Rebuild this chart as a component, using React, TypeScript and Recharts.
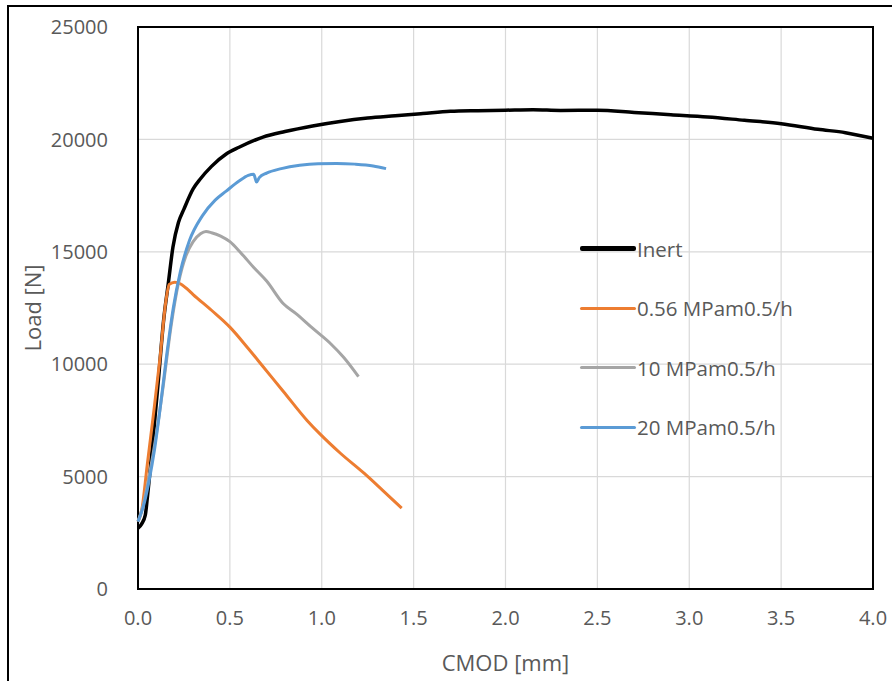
import React from 'react';
import {
  LineChart,
  Line,
  XAxis,
  YAxis,
  CartesianGrid,
  ReferenceArea,
} from 'recharts';

const xTicks = [0, 0.5, 1, 1.5, 2, 2.5, 3, 3.5, 4];
const yTicks = [0, 5000, 10000, 15000, 20000, 25000];

const inertCmod = [0, 0.02, 0.04, 0.05, 0.08, 0.11, 0.14, 0.165, 0.19, 0.22, 0.25, 0.3, 0.34, 0.4, 0.48, 0.55, 0.68, 0.8, 0.95, 1.1, 1.25, 1.4, 1.55, 1.7, 1.85, 2.0, 2.15, 2.3, 2.5, 2.7, 2.9, 3.1, 3.3, 3.5, 3.7, 3.85, 4.0];
const inertLoad = [2700, 2900, 3300, 4000, 6500, 9200, 12000, 13600, 15200, 16300, 16900, 17800, 18250, 18800, 19350, 19650, 20100, 20350, 20600, 20800, 20950, 21050, 21150, 21250, 21280, 21300, 21320, 21290, 21300, 21200, 21100, 21000, 20850, 20700, 20450, 20300, 20050];

const lowCmod = [0, 0.02, 0.05, 0.083, 0.12, 0.15, 0.17, 0.2, 0.23, 0.26, 0.3, 0.4, 0.5, 0.6, 0.68, 0.79, 0.92, 0.99, 1.1, 1.23, 1.33, 1.435];
const lowLoad = [3000, 3500, 5500, 7700, 10300, 12700, 13550, 13650, 13580, 13400, 13100, 12400, 11650, 10700, 9900, 8800, 7500, 6900, 6050, 5150, 4400, 3600];

const midCmod = [0, 0.03, 0.06, 0.1, 0.14, 0.18, 0.22, 0.26, 0.3, 0.34, 0.37, 0.4, 0.45, 0.5, 0.56, 0.63, 0.7, 0.79, 0.86, 0.95, 1.05, 1.12, 1.2];
const midLoad = [3000, 3800, 5000, 6900, 9200, 11700, 13600, 14800, 15450, 15800, 15900, 15850, 15700, 15450, 14950, 14300, 13700, 12700, 12250, 11600, 10900, 10300, 9450];

const highCmod = [0, 0.03, 0.06, 0.09, 0.12, 0.156, 0.192, 0.23, 0.28, 0.35, 0.42, 0.48, 0.55, 0.6, 0.63, 0.645, 0.66, 0.7, 0.78, 0.88, 0.98, 1.08, 1.18, 1.28, 1.35];
const highLoad = [3000, 3700, 4800, 6200, 8000, 10400, 12500, 14100, 15500, 16600, 17300, 17700, 18150, 18400, 18450, 18100, 18300, 18500, 18700, 18850, 18920, 18930, 18900, 18820, 18700];

const toPoints = (xs: number[], ys: number[]) => xs.map((x, i) => ({ x, y: ys[i] }));

const series = [
  { name: 'Inert', color: '#000000', width: 3.5, data: toPoints(inertCmod, inertLoad) },
  { name: '0.56 MPam0.5/h', color: '#ED7D31', width: 3, data: toPoints(lowCmod, lowLoad) },
  { name: '10 MPam0.5/h', color: '#A5A5A5', width: 3, data: toPoints(midCmod, midLoad) },
  { name: '20 MPam0.5/h', color: '#5B9BD5', width: 3, data: toPoints(highCmod, highLoad) },
];

const font = "'Open Sans', sans-serif";
const textColor = '#595959';

function LegendBox() {
  return (
    <div
      style={{
        position: 'absolute',
        left: 580,
        top: 219,
        fontFamily: font,
        fontSize: 20.5,
        color: textColor,
      }}
    >
      {series.map((s, i) => (
        <div key={s.name} style={{ display: 'flex', alignItems: 'center', height: 59.5 }}>
          <div
            style={{
              width: 56,
              height: i === 0 ? 5 : 3,
              background: s.color,
              borderRadius: 2,
              marginRight: 1,
            }}
          />
          <span>{s.name}</span>
        </div>
      ))}
    </div>
  );
}

export default function App() {
  return (
    <div style={{ position: 'absolute', left: 0, top: 0, width: 892, height: 681, overflow: 'hidden', background: '#fff' }}>
      <div
        style={{
          position: 'absolute',
          left: 7,
          top: 5,
          width: 900,
          height: 700,
          border: '2px solid #000',
          boxSizing: 'border-box',
        }}
      />
      <LineChart
        width={892}
        height={681}
        margin={{ top: 27, right: 19, bottom: 6, left: 28 }}
        style={{ position: 'absolute', left: 0, top: 0 }}
      >
        <CartesianGrid stroke="#D9D9D9" strokeWidth={1.2} />
        <XAxis
          type="number"
          dataKey="x"
          domain={[0, 4]}
          ticks={xTicks}
          tickFormatter={(v: number) => v.toFixed(1)}
          tickLine={false}
          axisLine={false}
          tickMargin={16}
          height={86}
          tick={{ fill: textColor, fontFamily: font, fontSize: 20 }}
          label={{
            value: 'CMOD [mm]',
            position: 'insideBottom',
            offset: 4,
            style: { fill: textColor, fontFamily: font, fontSize: 22 },
          }}
        />
        <YAxis
          type="number"
          domain={[0, 25000]}
          ticks={yTicks}
          tickLine={false}
          axisLine={false}
          tickMargin={24}
          width={110}
          tick={{ fill: textColor, fontFamily: font, fontSize: 20 }}
          label={{
            value: 'Load [N]',
            angle: -90,
            position: 'insideLeft',
            offset: 5,
            style: { fill: textColor, fontFamily: font, fontSize: 22, textAnchor: 'middle' },
          }}
        />
        <ReferenceArea x1={0} x2={4} y1={0} y2={25000} fill="none" stroke="#000" strokeWidth={2} />
        {series.map((s) => (
          <Line
            key={s.name}
            name={s.name}
            data={s.data}
            dataKey="y"
            type="monotone"
            stroke={s.color}
            strokeWidth={s.width}
            dot={false}
            isAnimationActive={false}
          />
        ))}
      </LineChart>
      <LegendBox />
    </div>
  );
}
